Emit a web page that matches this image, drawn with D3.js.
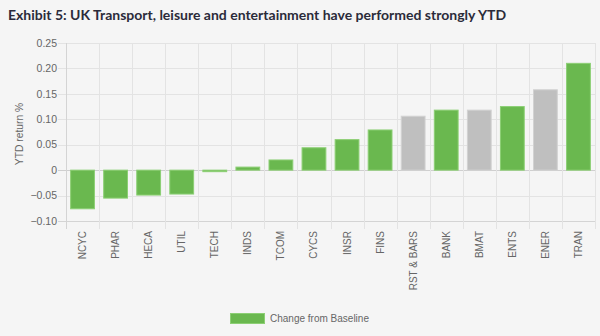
<!DOCTYPE html>
<html>
<head>
<meta charset="utf-8">
<script src="https://cdn.jsdelivr.net/npm/d3@7"></script>
<style>
  html, body { margin: 0; padding: 0; background: #f5f5f5; }
  svg { display: block; }
</style>
</head>
<body>
<svg id="chart" width="600" height="336"></svg>
<script>
// Sector codes, ordered by YTD return
const sectors = ["NCYC", "PHAR", "HECA", "UTIL", "TECH", "INDS", "TCOM", "CYCS",
                 "INSR", "FINS", "RST & BARS", "BANK", "BMAT", "ENTS", "ENER", "TRAN"];
// YTD return per sector
const returns = [-0.076, -0.055, -0.049, -0.047, -0.003, 0.006, 0.020, 0.044,
                 0.060, 0.079, 0.106, 0.118, 0.118, 0.125, 0.158, 0.210];
// Sectors shown in grey rather than the series colour
const greySectors = ["RST & BARS", "BMAT", "ENER"];
// Y axis ticks
const yTicks = [-0.10, -0.05, 0, 0.05, 0.10, 0.15, 0.20, 0.25];
const seriesName = "Change from Baseline";
const titleText = "Exhibit 5: UK Transport, leisure and entertainment have performed strongly YTD";

const svg = d3.select("#chart");
const W = 600, H = 336;
const plot = { left: 66, right: 595, top: 43, bottom: 221 };

svg.append("rect").attr("width", W).attr("height", H).attr("fill", "#f5f5f5");

// Title
svg.append("text")
  .attr("x", 8).attr("y", 20)
  .attr("font-family", "Lato, sans-serif")
  .attr("font-weight", 700)
  .attr("font-size", 14)
  .attr("fill", "#2b2b3a")
  .text(titleText);

const x = d3.scaleBand().domain(sectors).range([plot.left, plot.right]).padding(0);
const y = d3.scaleLinear().domain([-0.10, 0.25]).range([plot.bottom, plot.top]);

const fmt = v => v === 0 ? "0" : d3.format(".2f")(v);
const labelFont = "'Liberation Sans', Arial, sans-serif";

// Horizontal grid lines with left tick marks
const gridColor = "#e3e3e3";
svg.append("g").selectAll("line").data(yTicks).join("line")
  .attr("x1", plot.left - 8).attr("x2", plot.right)
  .attr("y1", d => Math.round(y(d)) + 0.5).attr("y2", d => Math.round(y(d)) + 0.5)
  .attr("stroke", d => (d === 0 ? "#cfcfcf" : d === -0.10 ? "#d4d4d4" : gridColor))
  .attr("stroke-width", 1);

// Vertical grid lines at category boundaries, extending below as ticks
const bounds = sectors.map(s => x(s)).concat([plot.right]);
svg.append("g").selectAll("line").data(bounds).join("line")
  .attr("x1", d => Math.round(d) + 0.5).attr("x2", d => Math.round(d) + 0.5)
  .attr("y1", plot.top).attr("y2", plot.bottom + 8)
  .attr("stroke", (d, i) => i === 0 ? "#d4d4d4" : gridColor)
  .attr("stroke-width", 1);

// Y tick labels
svg.append("g").selectAll("text").data(yTicks).join("text")
  .attr("x", plot.left - 9).attr("y", d => y(d))
  .attr("dy", "0.35em")
  .attr("text-anchor", "end")
  .attr("font-family", labelFont)
  .attr("font-size", 10.5)
  .attr("fill", "#666")
  .text(fmt);

// Y axis title
svg.append("text")
  .attr("transform", `translate(23,${(plot.top + plot.bottom) / 2 + 2}) rotate(-90)`)
  .attr("text-anchor", "middle")
  .attr("font-family", labelFont)
  .attr("font-size", 10.3)
  .attr("fill", "#666")
  .text("YTD return %");

// Bars
const barW = x.bandwidth() * 0.72;
svg.append("g").selectAll("rect").data(sectors).join("rect")
  .attr("x", s => x(s) + (x.bandwidth() - barW) / 2)
  .attr("width", barW)
  .attr("y", (s, i) => y(Math.max(0, returns[i])))
  .attr("height", (s, i) => Math.abs(y(returns[i]) - y(0)))
  .attr("fill", s => greySectors.includes(s) ? "#bfbfbf" : "#6ab84f")
  .attr("stroke", s => greySectors.includes(s) ? "#d2d2d2" : "#8ccf74")
  .attr("stroke-width", 1);

// X tick labels (rotated)
svg.append("g").selectAll("text").data(sectors).join("text")
  .attr("transform", s => `translate(${x(s) + x.bandwidth() / 2},${plot.bottom + 10}) rotate(-90)`)
  .attr("dy", "0.35em")
  .attr("text-anchor", "end")
  .attr("font-family", labelFont)
  .attr("font-size", 10)
  .attr("fill", "#666")
  .text(s => s);

// Legend
const lg = svg.append("g").attr("transform", "translate(230,313)");
lg.append("rect").attr("x", 0.5).attr("y", 0.5).attr("width", 34).attr("height", 10)
  .attr("fill", "#6ab84f").attr("stroke", "#8ccf74");
lg.append("text")
  .attr("x", 40).attr("y", 5.5).attr("dy", "0.35em")
  .attr("font-family", labelFont)
  .attr("font-size", 10)
  .attr("fill", "#666")
  .text(seriesName);
</script>
</body>
</html>
